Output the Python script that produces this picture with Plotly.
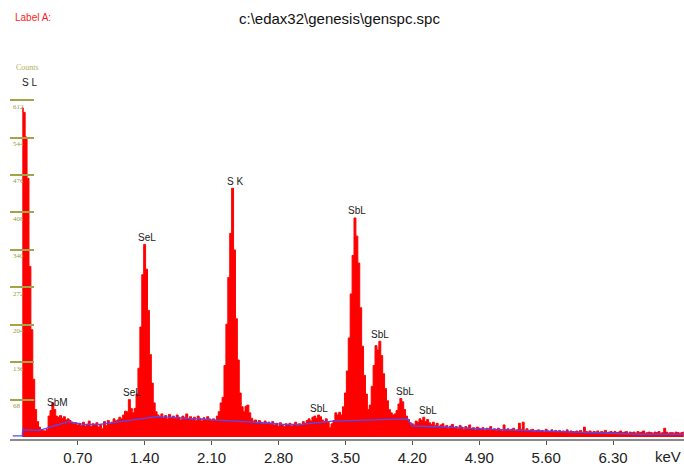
import plotly.graph_objects as go

# ---------------- data ----------------
start_kev = 0.12      # energy of first channel
bin_kev = 0.02        # channel width
counts = [
    598, 590, 545, 470, 310, 195, 105, 50, 28, 18,        # 0.12
    13, 12, 11, 14, 38, 48, 62, 50, 38, 36,               # 0.32
    39, 34, 37, 31, 33, 30, 27, 24, 26, 22,               # 0.52
    25, 21, 27, 20, 23, 29, 19, 24, 22, 26,               # 0.72
    18, 23, 15, 28, 21, 30, 24, 27, 33, 29,               # 0.92
    31, 36, 33, 40, 47, 46, 68, 52, 44, 52,               # 1.12
    78, 125, 200, 295, 350, 305, 230, 150, 98, 62,        # 1.32
    46, 40, 37, 42, 35, 39, 33, 41, 36, 38,               # 1.52
    34, 40, 36, 31, 38, 35, 42, 33, 37, 32,               # 1.72
    36, 30, 38, 34, 29, 35, 32, 37, 33, 30,               # 1.92
    33, 30, 38, 46, 62, 72, 130, 205, 290, 370,           # 2.12
    452, 340, 215, 140, 80, 55, 46, 56, 58, 44,           # 2.32
    34, 29, 31, 26, 30, 27, 24, 29, 25, 27,               # 2.52
    23, 28, 22, 25, 20, 26, 22, 19, 24, 21,               # 2.72
    25, 20, 23, 27, 21, 24, 22, 28, 25, 30,               # 2.92
    33, 29, 36, 38, 34, 40, 37, 31, 28, 33,               # 3.12
    27, 17, 24, 30, 44, 40, 45, 40, 55, 80,               # 3.32
    120, 180, 260, 330, 398, 365, 316, 235, 165, 112,     # 3.52
    78, 50, 58, 92, 130, 166, 158, 174, 148, 115,         # 3.72
    88, 66, 50, 44, 40, 42, 48, 60, 70, 64,               # 3.92
    50, 38, 32, 26, 24, 22, 29, 27, 33, 30,               # 4.12
    36, 28, 32, 26, 23, 27, 21, 25, 19, 22,               # 4.32
    24, 18, 21, 16, 20, 23, 17, 19, 15, 21,               # 4.52
    18, 14, 19, 16, 22, 15, 17, 13, 18, 16,               # 4.72
    14, 17, 12, 16, 15, 19, 13, 15, 12, 16,               # 4.92
    14, 11, 22, 13, 15, 12, 14, 16, 11, 13,               # 5.12
    25, 14, 27, 12, 15, 11, 13, 14, 10, 12,               # 5.32
    13, 11, 12, 9, 14, 11, 10, 13, 9, 12,                 # 5.52
    10, 12, 9, 11, 10, 13, 8, 11, 10, 9,                  # 5.72
    11, 9, 12, 8, 18, 10, 9, 11, 8, 10,                   # 5.92
    9, 11, 8, 10, 9, 12, 8, 9, 10, 8,                     # 6.12
    10, 8, 9, 11, 8, 9, 10, 7, 9, 8,                      # 6.32
    9, 7, 10, 8, 9, 11, 7, 8, 9, 8,                       # 6.52
    7, 9, 8, 10, 7, 8, 16, 9, 7, 8,                       # 6.72
    8, 7, 9, 8, 7, 8, 9,                                  # 6.92
]

# fitted background (blue line)
bg_kev = [0.02, 0.12, 0.125, 0.30, 0.60, 0.76, 0.93, 1.53, 1.84, 2.16, 2.53,
          2.85, 3.03, 3.37, 3.55, 3.93, 4.15, 4.20, 4.59, 5.01, 5.54, 5.95, 6.58, 7.04]
bg_counts = [2, 2, 13, 12, 28, 23, 23, 37, 34, 31, 27,
             23, 23, 29, 30, 33, 33, 20, 18, 14, 11, 9, 5, 5]

# peak labels
label_text = ["S L", "SbM", "SeL", "SeL", "S K", "SbL", "SbL", "SbL", "SbL", "SbL"]
label_kev = [0.20, 0.49, 1.27, 1.42, 2.34, 3.22, 3.62, 3.86, 4.12, 4.36]

# axis ticks
x_tick_kev = [0.70, 1.40, 2.10, 2.80, 3.50, 4.20, 4.90, 5.60, 6.30]
x_tick_labels = ["0.70", "1.40", "2.10", "2.80", "3.50", "4.20", "4.90", "5.60", "6.30"]
y_tick_counts = [68, 136, 204, 272, 340, 408, 476, 544, 612]
y_tick_labels = ["68", "136", "204", "272", "340", "408", "476", "544", "612"]

title_text = r"c:\edax32\genesis\genspc.spc"

# ---------------- figure ----------------
energies = [start_kev + i * bin_kev for i in range(len(counts))]

fig = go.Figure()
fig.add_trace(go.Scatter(
    x=energies, y=counts, mode="lines", line_shape="hvh",
    line=dict(color="#ff0000", width=1), fill="tozeroy", fillcolor="#ff0000",
    hoverinfo="skip", showlegend=False))
fig.add_trace(go.Scatter(
    x=bg_kev, y=bg_counts, mode="lines",
    line=dict(color="#4b4bff", width=1.3), hoverinfo="skip", showlegend=False))

# label placement: above local maximum
extra_shift = {0: 25}
for i, (t, k) in enumerate(zip(label_text, label_kev)):
    win = [c for e, c in zip(energies, counts) if abs(e - k) <= 0.041]
    if i == 0:
        win = counts[:3]
    fig.add_annotation(x=k, y=max(win), text=t, showarrow=False,
                       yanchor="middle", yshift=extra_shift.get(i, 7),
                       font=dict(family="Arial, Liberation Sans", size=10, color="#1a1a1a"))

olive = "#a3a348"
fig.add_annotation(x=0.17, y=672, text="Counts", showarrow=False, yanchor="middle",
                   font=dict(family="Liberation Serif, serif", size=8, color="#b0b05a"))
fig.add_annotation(xref="paper", yref="paper", x=0.0045, y=1.111, xanchor="left",
                   yanchor="middle", text="Label A:", showarrow=False,
                   font=dict(family="Arial, Liberation Sans", size=10, color="#ff2020"))
fig.add_annotation(xref="paper", yref="paper", x=0.4896, y=1.109, xanchor="center",
                   yanchor="middle", text=title_text, showarrow=False,
                   font=dict(family="Arial, Liberation Sans", size=15, color="#111111"))
fig.add_annotation(xref="paper", yref="paper", x=0.976, y=-0.047, xanchor="center",
                   yanchor="middle", text="keV", showarrow=False,
                   font=dict(family="Arial, Liberation Sans", size=15, color="#222222"))

fig.update_layout(
    width=684, height=466,
    margin=dict(l=10, r=0, t=60, b=20),
    paper_bgcolor="white", plot_bgcolor="white",
    showlegend=False,
    xaxis=dict(range=[-0.0084, 7.042], tickvals=x_tick_kev, ticktext=x_tick_labels,
               ticks="outside", ticklen=4, tickcolor="#555555", tickwidth=1,
               showline=True, linecolor="#8a8a8a", linewidth=2,
               showgrid=False, zeroline=False,
               tickfont=dict(family="Arial, Liberation Sans", size=15, color="#222222")),
    yaxis=dict(range=[-3.6, 685], tickvals=y_tick_counts, ticktext=y_tick_labels,
               ticks="inside", ticklen=24, tickwidth=2, tickcolor=olive,
               ticklabelposition="inside bottom",
               showline=False, showgrid=False, zeroline=False,
               tickfont=dict(family="Liberation Serif, serif", size=7, color="#9a9a40")),
)

fig.write_html("out.html")
